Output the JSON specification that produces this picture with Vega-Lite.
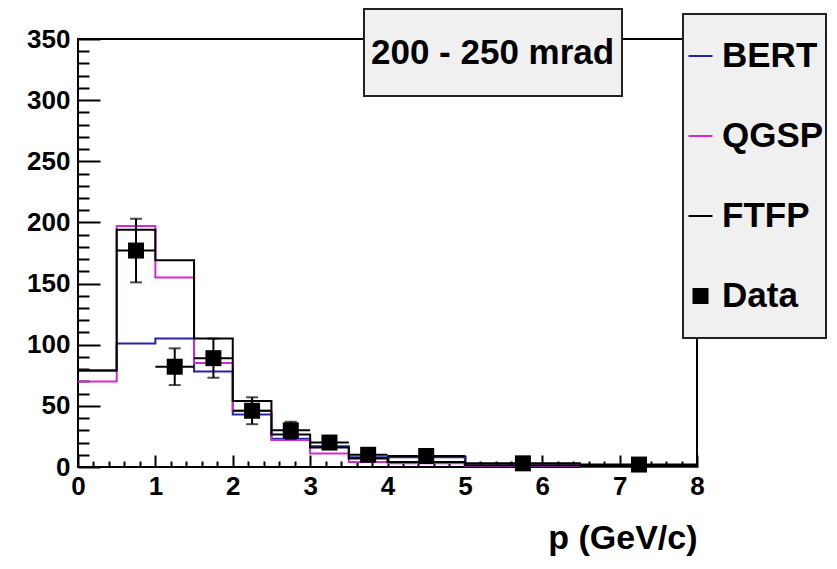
{
  "$schema": "https://vega.github.io/schema/vega-lite/v6.json",
  "width": 619,
  "height": 428,
  "autosize": {"type": "none"},
  "padding": {"left": 78, "top": 39, "right": 140, "bottom": 102},
  "background": "white",
  "config": {
    "view": {"stroke": "black", "strokeWidth": 2},
    "font": "Liberation Sans",
    "axis": {
      "grid": false,
      "domain": false,
      "labelFont": "Liberation Sans",
      "labelFontWeight": "bold",
      "labelFontSize": 26,
      "labelColor": "black",
      "labelOverlap": false,
      "labelFlush": false,
      "tickColor": "black",
      "tickWidth": 2,
      "titleFont": "Liberation Sans",
      "titleFontWeight": "bold",
      "titleColor": "black"
    },
    "legend": {
      "labelFont": "Liberation Sans",
      "labelFontWeight": "bold",
      "labelColor": "black",
      "labelFontSize": 35,
      "labelLimit": 500,
      "fillColor": "#f0f0f0",
      "strokeColor": "#222222",
      "strokeWidth": 2
    }
  },
  "datasets": {
    "mc": [
      {"model": "BERT", "p": 0, "n": 79},
      {"model": "BERT", "p": 0.5, "n": 101},
      {"model": "BERT", "p": 1, "n": 105},
      {"model": "BERT", "p": 1.5, "n": 78},
      {"model": "BERT", "p": 2, "n": 43},
      {"model": "BERT", "p": 2.5, "n": 23},
      {"model": "BERT", "p": 3, "n": 17},
      {"model": "BERT", "p": 3.5, "n": 8},
      {"model": "BERT", "p": 4, "n": 8},
      {"model": "BERT", "p": 5, "n": 1},
      {"model": "BERT", "p": 6.5, "n": 0.5},
      {"model": "BERT", "p": 8, "n": 0.5},
      {"model": "QGSP", "p": 0, "n": 70},
      {"model": "QGSP", "p": 0.5, "n": 197},
      {"model": "QGSP", "p": 1, "n": 155},
      {"model": "QGSP", "p": 1.5, "n": 85},
      {"model": "QGSP", "p": 2, "n": 46},
      {"model": "QGSP", "p": 2.5, "n": 22},
      {"model": "QGSP", "p": 3, "n": 11},
      {"model": "QGSP", "p": 3.5, "n": 4},
      {"model": "QGSP", "p": 4, "n": 3},
      {"model": "QGSP", "p": 5, "n": 1},
      {"model": "QGSP", "p": 6.5, "n": 0.5},
      {"model": "QGSP", "p": 8, "n": 0.5},
      {"model": "FTFP", "p": 0, "n": 79},
      {"model": "FTFP", "p": 0.5, "n": 194},
      {"model": "FTFP", "p": 1, "n": 169},
      {"model": "FTFP", "p": 1.5, "n": 105},
      {"model": "FTFP", "p": 2, "n": 54},
      {"model": "FTFP", "p": 2.5, "n": 26.5},
      {"model": "FTFP", "p": 3, "n": 16},
      {"model": "FTFP", "p": 3.5, "n": 7},
      {"model": "FTFP", "p": 4, "n": 4},
      {"model": "FTFP", "p": 5, "n": 1.5},
      {"model": "FTFP", "p": 6.5, "n": 0.8},
      {"model": "FTFP", "p": 8, "n": 0.8}
    ],
    "meas": [
      {"model": "Data", "p": 0.75, "value": 177, "err": 26, "plo": 0.5, "phi": 1},
      {"model": "Data", "p": 1.25, "value": 82, "err": 15, "plo": 1, "phi": 1.5},
      {"model": "Data", "p": 1.75, "value": 89, "err": 16, "plo": 1.5, "phi": 2},
      {"model": "Data", "p": 2.25, "value": 46, "err": 11, "plo": 2, "phi": 2.5},
      {"model": "Data", "p": 2.75, "value": 30, "err": 7, "plo": 2.5, "phi": 3},
      {"model": "Data", "p": 3.25, "value": 20, "err": 5, "plo": 3, "phi": 3.5},
      {"model": "Data", "p": 3.75, "value": 10, "err": 3, "plo": 3.5, "phi": 4},
      {"model": "Data", "p": 4.5, "value": 9, "err": 2, "plo": 4, "phi": 5},
      {"model": "Data", "p": 5.75, "value": 3, "err": 1, "plo": 5, "phi": 6.5},
      {"model": "Data", "p": 7.25, "value": 2, "err": 1, "plo": 6.5, "phi": 8}
    ]
  },
  "encoding": {
    "y": {
      "type": "quantitative",
      "scale": {"domain": [0, 350], "nice": false},
      "axis": {
        "title": null,
        "values": [0,10,20,30,40,50,60,70,80,90,100,110,120,130,140,150,160,170,180,190,200,210,220,230,240,250,260,270,280,290,300,310,320,330,340,350],
        "labelExpr": "datum.value % 50 === 0 ? datum.label : ''",
        "tickSize": {"condition": {"test": "datum.value % 50 === 0", "value": -22}, "value": -11},
        "labelPadding": 30
      }
    }
  },
  "resolve": {"axis": {"x": "independent"}},
  "layer": [
    {
      "data": {"name": "mc"},
      "mark": {"type": "line", "interpolate": "step-after", "strokeWidth": 2},
      "encoding": {
        "x": {
          "field": "p",
          "type": "quantitative",
          "scale": {"domain": [0, 8], "nice": false, "zero": false},
          "axis": {
            "orient": "bottom",
            "title": null,
            "labels": false,
            "values": [0,0.2,0.4,0.6,0.8,1,1.2,1.4,1.6,1.8,2,2.2,2.4,2.6,2.8,3,3.2,3.4,3.6,3.8,4,4.2,4.4,4.6,4.8,5,5.2,5.4,5.6,5.8,6,6.2,6.4,6.6,6.8,7,7.2,7.4,7.6,7.8,8],
            "tickSize": {"condition": {"test": "datum.value % 1 === 0", "value": -12}, "value": -6}
          }
        },
        "y": {"field": "n", "type": "quantitative"},
        "color": {
          "field": "model",
          "type": "nominal",
          "scale": {"domain": ["BERT", "QGSP", "FTFP", "Data"], "range": ["#2424a8", "#d02cd0", "#000000", "#000000"]},
          "legend": {
            "title": null,
            "orient": "none",
            "legendX": 605,
            "legendY": -25,
            "padding": 2,
            "clipHeight": 80,
            "rowPadding": 0,
            "symbolSize": 576,
            "symbolStrokeWidth": 2,
            "symbolOffset": -2,
            "labelOffset": 4,
            "encode": {
              "symbols": {
                "update": {
                  "shape": {"signal": "datum.value === 'Data' ? 'square' : 'stroke'"},
                  "size": {"signal": "datum.value === 'Data' ? 256 : 576"},
                  "fill": {"signal": "datum.value === 'Data' ? 'black' : 'transparent'"},
                  "stroke": {"signal": "scale('color', datum.value)"},
                  "strokeWidth": {"signal": "datum.value === 'Data' ? 0 : 2"},
                  "opacity": {"value": 1}
                }
              }
            }
          }
        },
        "strokeDash": {
          "datum": "200 - 250 mrad",
          "type": "nominal",
          "scale": {"range": [[1, 0]]},
          "legend": {
            "title": null,
            "orient": "none",
            "legendX": 286,
            "legendY": -30,
            "padding": 7,
            "clipHeight": 73,
            "symbolSize": 0,
            "symbolOpacity": 0,
            "symbolStrokeWidth": 0,
            "labelOffset": -35
          }
        }
      }
    },
    {
      "data": {"name": "meas"},
      "mark": {"type": "rule", "color": "black", "strokeWidth": 2},
      "encoding": {
        "x": {"field": "plo", "type": "quantitative", "axis": null},
        "x2": {"field": "phi"},
        "y": {"field": "value", "type": "quantitative"}
      }
    },
    {
      "data": {"name": "meas"},
      "mark": {"type": "errorbar", "color": "black", "thickness": 2, "ticks": {"size": 12, "thickness": 2, "color": "black"}},
      "encoding": {
        "x": {"field": "p", "type": "quantitative", "axis": null},
        "y": {"field": "value", "type": "quantitative"},
        "yError": {"field": "err"}
      }
    },
    {
      "data": {"name": "meas"},
      "mark": {"type": "point", "shape": "square", "filled": true, "size": 256, "opacity": 1},
      "encoding": {
        "x": {
          "field": "p",
          "type": "quantitative",
          "axis": {
            "orient": "bottom",
            "title": "p (GeV/c)",
            "titleFontSize": 34,
            "titleAnchor": "end",
            "titlePadding": 22,
            "ticks": false,
            "tickSize": 0,
            "values": [0, 1, 2, 3, 4, 5, 6, 7, 8],
            "format": "d",
            "labelPadding": 6
          }
        },
        "y": {"field": "value", "type": "quantitative"},
        "color": {"field": "model", "type": "nominal"}
      }
    }
  ]
}
